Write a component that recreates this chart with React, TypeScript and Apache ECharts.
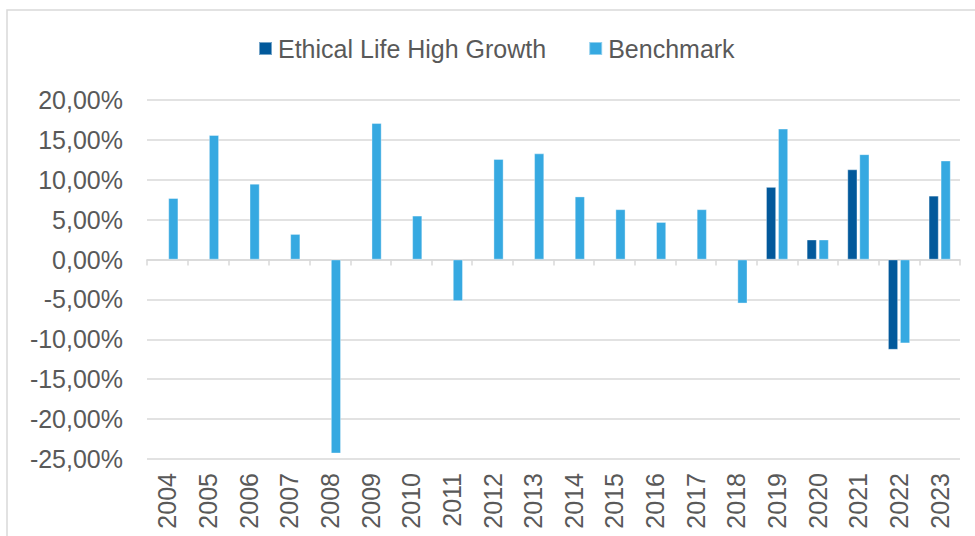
import React, { useEffect, useRef } from "react";
import * as echarts from "echarts";

const years = ["2004","2005","2006","2007","2008","2009","2010","2011","2012","2013","2014","2015","2016","2017","2018","2019","2020","2021","2022","2023"];
const fundName = "Ethical Life High Growth";
const benchName = "Benchmark";
const fundValues: (number | null)[] = [null,null,null,null,null,null,null,null,null,null,null,null,null,null,null,9.1,2.5,11.3,-11.3,8.0];
const benchValues: number[] = [7.7,15.6,9.5,3.2,-24.3,17.1,5.5,-5.2,12.6,13.3,7.9,6.3,4.7,6.3,-5.5,16.4,2.5,13.2,-10.5,12.4];
const yMin = -25;
const yMax = 20;
const yStep = 5;

const fontFamily = "'Liberation Sans', Arial, sans-serif";
const textColor = "#595959";
const gridColor = "#d9d9d9";

export default function App() {
  const ref = useRef<HTMLDivElement>(null);
  useEffect(() => {
    if (!ref.current) return;
    const chart = echarts.init(ref.current, null, { renderer: "svg" });
    chart.setOption({
      animation: false,
      backgroundColor: "#ffffff",
      textStyle: { fontFamily },
      graphic: [
        {
          type: "rect",
          shape: { x: 7, y: 10, width: 1100, height: 700 },
          style: { fill: "none", stroke: gridColor, lineWidth: 1.5 },
          silent: true,
          z: -1,
        },
      ],
      legend: {
        left: 253,
        top: 31,
        itemWidth: 13,
        itemHeight: 13,
        itemGap: 42,
        icon: "rect",
        textStyle: { fontSize: 25, color: textColor, fontFamily, padding: [0, 0, 0, 1] },
        data: [fundName, benchName],
      },
      grid: { left: 147, right: 15, top: 100, bottom: 77, containLabel: false },
      xAxis: [
        {
          type: "category",
          data: years,
          position: "bottom",
          boundaryGap: true,
          axisLine: { show: false, onZero: false },
          axisTick: { show: false },
          axisLabel: { rotate: 90, fontSize: 25, color: textColor, margin: 14, fontFamily },
          splitLine: { show: false },
        },
        {
          type: "category",
          data: years,
          position: "top",
          boundaryGap: true,
          axisLine: { show: true, onZero: true, lineStyle: { color: gridColor, width: 1.5 } },
          axisTick: { show: true, inside: true, length: 6, lineStyle: { color: gridColor, width: 1.5 } },
          axisLabel: { show: false },
          splitLine: { show: false },
        },
      ],
      yAxis: {
        type: "value",
        min: yMin,
        max: yMax,
        interval: yStep,
        axisLine: { show: false },
        axisTick: { show: false },
        axisLabel: {
          fontSize: 25,
          color: textColor,
          margin: 24,
          fontFamily,
          formatter: (v: number) => v.toFixed(2).replace(".", ",") + "%",
        },
        splitLine: { show: true, lineStyle: { color: gridColor, width: 1.5 } },
      },
      series: [
        {
          name: fundName,
          type: "bar",
          xAxisIndex: 0,
          data: fundValues,
          barWidth: 10,
          barGap: "20%",
          itemStyle: { color: "#02599b", borderColor: "rgba(255,255,255,0.45)", borderWidth: 0.8 },
        },
        {
          name: benchName,
          type: "bar",
          xAxisIndex: 0,
          data: benchValues,
          barWidth: 10,
          barGap: "20%",
          itemStyle: { color: "#36a9e1", borderColor: "rgba(255,255,255,0.45)", borderWidth: 0.8 },
        },
      ],
    });
    return () => chart.dispose();
  }, []);
  return (
    <div
      ref={ref}
      style={{ position: "fixed", left: 0, top: 0, width: 975, height: 536 }}
    />
  );
}
